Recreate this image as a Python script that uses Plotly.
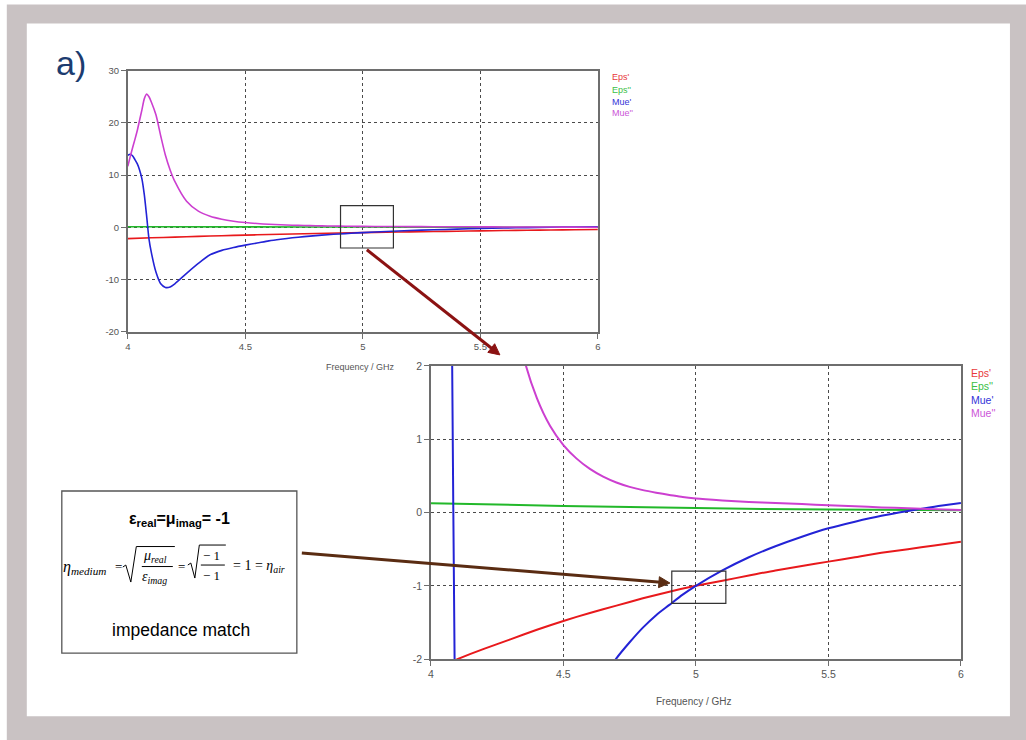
import math
import plotly.graph_objects as go

W, H = 1026, 740

# ---------------- data ----------------
series_names = ["Eps'", "Eps''", "Mue'", "Mue''"]
series_colors = ["#e8191c", "#22b82a", "#2323d6", "#cc3fd0"]
legend_colors = ["#e8393c", "#3cc046", "#3333d8", "#cc55d8"]

freq_eps_real = [4.0, 4.1, 4.2, 4.3, 4.4, 4.5, 4.6, 4.7, 4.8, 4.9, 5.0,
                 5.1, 5.2, 5.3, 5.4, 5.5, 5.6, 5.7, 5.8, 5.9, 6.0]
eps_real = [-2.15, -2.0, -1.86, -1.73, -1.6, -1.48, -1.37, -1.27, -1.17, -1.08, -1.0,
            -0.93, -0.86, -0.79, -0.73, -0.67, -0.61, -0.55, -0.5, -0.45, -0.4]

freq_eps_imag = [4.0, 4.5, 5.0, 5.5, 6.0]
eps_imag = [0.125, 0.09, 0.06, 0.04, 0.03]

freq_mue = [4.0, 4.01, 4.02, 4.03, 4.04, 4.05, 4.06, 4.07, 4.08, 4.09, 4.1,
            4.12, 4.14, 4.16, 4.18, 4.2, 4.25, 4.3, 4.35, 4.4, 4.45, 4.5, 4.55,
            4.6, 4.65, 4.7, 4.75, 4.8, 4.85, 4.9, 4.95, 5.0,
            5.1, 5.2, 5.3, 5.4, 5.5, 5.6, 5.7, 5.8, 5.9, 6.0]
mue_real = [13.8, 14.0, 13.7, 13.0, 12.2, 11.0, 9.3, 6.3, 2.2, -2.2, -4.8,
            -8.6, -10.8, -11.5, -11.4, -10.8, -8.8, -6.9, -5.25, -4.4, -3.85, -3.4, -3.0,
            -2.59, -2.27, -1.99, -1.77, -1.57, -1.40, -1.26, -1.12, -1.0,
            -0.79, -0.61, -0.46, -0.33, -0.215, -0.125, -0.045, 0.02, 0.08, 0.13]
mue_imag = [11.7, 13.5, 15.2, 16.8, 18.5, 20.5, 22.5, 24.6, 25.5, 25.0, 24.0,
            21.5, 17.5, 13.8, 11.0, 8.8, 5.0, 3.1, 2.12, 1.56, 1.18, 0.92, 0.735,
            0.595, 0.49, 0.41, 0.35, 0.305, 0.27, 0.24, 0.21, 0.19,
            0.165, 0.145, 0.13, 0.115, 0.1, 0.085, 0.07, 0.058, 0.046, 0.035]

x_ticks = [4, 4.5, 5, 5.5, 6]
x_tick_labels = ["4", "4.5", "5", "5.5", "6"]
top_y_ticks = [-20, -10, 0, 10, 20, 30]
top_y_labels = ["-20", "-10", "0", "10", "20", "30"]
bottom_y_ticks = [-2, -1, 0, 1, 2]
bottom_y_labels = ["-2", "-1", "0", "1", "2"]
x_title = "Frequency / GHz"

series_x = [freq_eps_real, freq_eps_imag, freq_mue, freq_mue]
series_y = [eps_real, eps_imag, mue_real, mue_imag]

# ---------------- helpers: target pixel -> paper fraction ----------------
# (compensates the small offset/scale seen in the photographed page)
SX, OX = 0.994, 3.2
SY, OY = 0.983, 6.4

def fx(px):
    return ((px - OX) / SX) / W

def fy(py):
    return 1 - ((py - OY) / SY) / H

fig = go.Figure()
for name, xs, ys, col in zip(series_names, series_x, series_y, series_colors):
    fig.add_trace(go.Scatter(x=xs, y=ys, mode="lines", name=name,
                             line=dict(color=col, width=1.6, shape="spline", smoothing=0.7),
                             xaxis="x", yaxis="y", showlegend=False))
for name, xs, ys, col in zip(series_names, series_x, series_y, series_colors):
    fig.add_trace(go.Scatter(x=xs, y=ys, mode="lines", name=name,
                             line=dict(color=col, width=2, shape="spline", smoothing=0.7),
                             xaxis="x2", yaxis="y2", showlegend=False))

axis_common = dict(showgrid=True, griddash="dot", gridcolor="#4a4a4a", gridwidth=1,
                   zeroline=False, showline=True, mirror=True, linecolor="#6e6e6e",
                   linewidth=1.5, ticks="outside", ticklen=5, tickcolor="#6e6e6e",
                   tickwidth=1)
font_top = dict(family="Liberation Sans", size=9.5, color="#555555")
font_bot = dict(family="Liberation Sans", size=10.5, color="#555555")

fig.update_layout(
    width=W, height=H, autosize=False,
    margin=dict(l=0, r=0, t=0, b=0, pad=0),
    paper_bgcolor="rgba(0,0,0,0)", plot_bgcolor="rgba(0,0,0,0)",
    showlegend=False,
    xaxis=dict(domain=[fx(128), fx(598)], range=[4, 6], anchor="y",
               tickvals=x_ticks, ticktext=x_tick_labels, tickfont=font_top, **axis_common),
    yaxis=dict(domain=[fy(332), fy(71)], range=[-20, 30], anchor="x",
               tickvals=top_y_ticks, ticktext=top_y_labels, tickfont=font_top, **axis_common),
    xaxis2=dict(domain=[fx(431), fx(961)], range=[4, 6], anchor="y2",
                tickvals=x_ticks, ticktext=x_tick_labels, tickfont=font_bot, **axis_common),
    yaxis2=dict(domain=[fy(659), fy(366)], range=[-2, 2], anchor="x2",
                tickvals=bottom_y_ticks, ticktext=bottom_y_labels, tickfont=font_bot, **axis_common),
)

shapes = []
# slide frame
shapes.append(dict(type="rect", xref="paper", yref="paper", layer="below",
                   x0=fx(7), x1=1.02, y0=-0.02, y1=fy(5),
                   fillcolor="#c9c2c3", line=dict(width=0)))
shapes.append(dict(type="rect", xref="paper", yref="paper", layer="below",
                   x0=fx(27), x1=fx(1010), y0=fy(716), y1=fy(24),
                   fillcolor="white", line=dict(width=0)))
# zoom boxes
shapes.append(dict(type="rect", xref="x", yref="y", layer="above",
                   x0=4.905, x1=5.13, y0=-3.95, y1=4.15,
                   line=dict(color="#333333", width=1.2)))
shapes.append(dict(type="rect", xref="x2", yref="y2", layer="above",
                   x0=4.909, x1=5.113, y0=-1.24, y1=-0.80,
                   line=dict(color="#333333", width=1.2)))
# text box
shapes.append(dict(type="rect", xref="paper", yref="paper", layer="above",
                   x0=fx(62), x1=fx(297), y0=fy(653), y1=fy(491),
                   fillcolor="white", line=dict(color="#555555", width=1.3)))

def path(points, close=False):
    s = ""
    for i, (px, py) in enumerate(points):
        s += ("M" if i == 0 else " L") + f" {fx(px):.5f} {fy(py):.5f}"
    if close:
        s += " Z"
    return s

# radicals and fraction bars
shapes.append(dict(type="path", xref="paper", yref="paper", layer="above",
                   path=path([(123, 567), (126, 565), (131, 582), (136.5, 546.5), (175, 546.5)]),
                   line=dict(color="black", width=1)))
shapes.append(dict(type="path", xref="paper", yref="paper", layer="above",
                   path=path([(188, 565), (191, 563), (195, 578), (199.5, 545), (226, 545)]),
                   line=dict(color="black", width=1)))
shapes.append(dict(type="line", xref="paper", yref="paper", layer="above",
                   x0=fx(142), x1=fx(173), y0=fy(566.5), y1=fy(566.5),
                   line=dict(color="black", width=1)))
shapes.append(dict(type="line", xref="paper", yref="paper", layer="above",
                   x0=fx(201), x1=fx(225), y0=fy(565), y1=fy(565),
                   line=dict(color="black", width=1)))

# arrows drawn as line + filled head
def arrow(tail, head, color, width=3, head_len=11, head_half=5.5):
    dx, dy = head[0] - tail[0], head[1] - tail[1]
    L = math.hypot(dx, dy)
    ux, uy = dx / L, dy / L
    nx, ny = -uy, ux
    bx, by = head[0] - head_len * ux, head[1] - head_len * uy
    shapes.append(dict(type="line", xref="paper", yref="paper", layer="above",
                       x0=fx(tail[0]), y0=fy(tail[1]), x1=fx(bx + 2 * ux), y1=fy(by + 2 * uy),
                       line=dict(color=color, width=width)))
    shapes.append(dict(type="path", xref="paper", yref="paper", layer="above",
                       path=path([head, (bx + head_half * nx, by + head_half * ny),
                                  (bx - head_half * nx, by - head_half * ny)], close=True),
                       fillcolor=color, line=dict(color=color, width=1)))

arrow((367, 250), (500, 355), "#8b1212")
arrow((302, 553), (670, 583), "#5a2c12")

fig.update_layout(shapes=shapes)

ann = []
def text(px, py, t, size, color="black", family="Liberation Sans", xanchor="center"):
    ann.append(dict(xref="paper", yref="paper", x=fx(px), y=fy(py), text=t,
                    showarrow=False, xanchor=xanchor, yanchor="middle",
                    font=dict(size=size, color=color, family=family)))

text(71, 63, "a)", 34, color="#1c3c70")

# legends
top_legend_y = [77, 90, 102, 113]
bot_legend_y = [373, 386.5, 400, 413.5]
for name, col, ty, by in zip(series_names, legend_colors, top_legend_y, bot_legend_y):
    text(610, ty, name, 9, color=col, xanchor="left")
    text(969, by, name, 10.5, color=col, xanchor="left")

# axis titles
text(361, 367, x_title, 9, color="#555555")
text(694.5, 701, x_title, 10, color="#555555")

# box contents
text(180, 519, "<b>ε<sub>real</sub>=μ<sub>imag</sub>= -1</b>", 16)
serif = "Liberation Serif"
text(85, 567, "<i>η<sub>medium</sub></i>", 16, family=serif)
text(118.5, 566, "=", 13, family=serif)
text(155, 556, "<i>μ<sub>real</sub></i>", 14, family=serif)
text(155, 577, "<i>ε<sub>imag</sub></i>", 14, family=serif)
text(182, 566, "=", 13, family=serif)
text(212, 555, "− 1", 13, family=serif)
text(212, 575, "− 1", 13, family=serif)
text(259, 566, "= 1 = <i>η<sub>air</sub></i>", 14, family=serif)
text(181, 630, "impedance match", 17.5)

fig.update_layout(annotations=ann)

fig.write_html(
    "out.html",
    config={"displayModeBar": False},
    post_script="document.body.style.margin='0';document.body.style.overflow='hidden';"
                "document.body.style.background='white';",
)
